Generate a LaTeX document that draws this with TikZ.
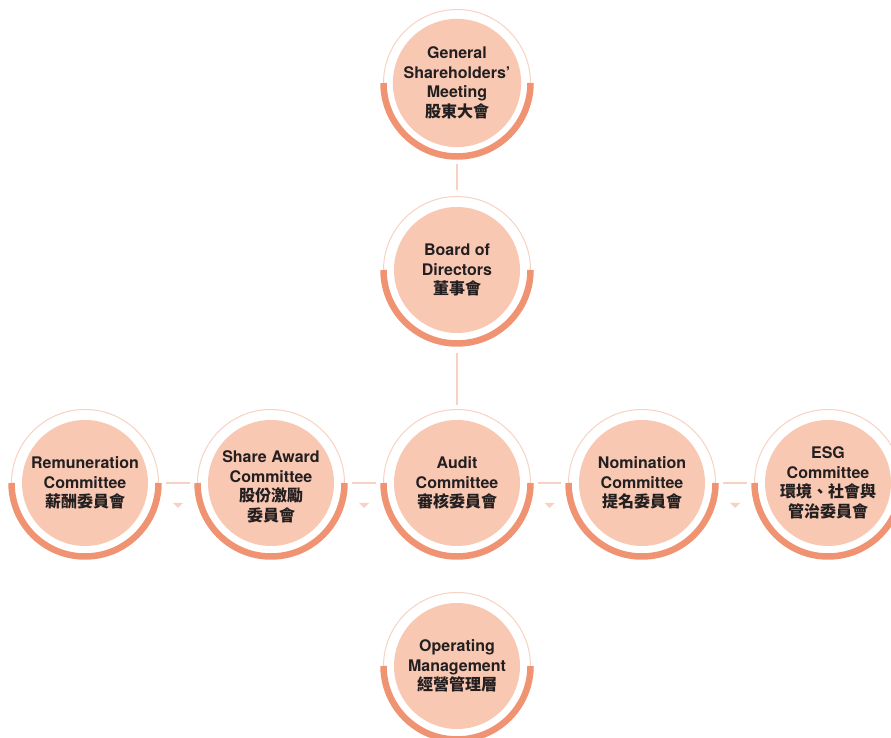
\documentclass[tikz,border=0pt]{standalone}
\usepackage{fontspec}
\setmainfont{TeX Gyre Heros}
\newfontfamily\cjk{Noto Sans CJK TC}
\usetikzlibrary{positioning, calc}
\definecolor{BodyPeach}{RGB}{248,200,178}
\definecolor{RingOrange}{RGB}{239,147,115}
\definecolor{RingLight}{RGB}{247,210,195}
\definecolor{TextDark}{RGB}{35,31,32}
\newcommand{\zh}[1]{{\cjk #1}}

\begin{document}
\begin{tikzpicture}[x=1pt, y=1pt]
        \tikzstyle{ring} = [circle, draw=RingLight, line width=1pt, minimum size=147pt, inner sep=0pt]
        \tikzstyle{half} = [draw=RingOrange, line width=6.5pt]
        \tikzstyle{body} = [circle, fill=BodyPeach, minimum size=126pt, inner sep=0pt,
          align=center, text=TextDark, font=\fontsize{16}{19.5}\selectfont\bfseries]
        \tikzstyle{link} = [draw=RingLight, line width=1.5pt]
        \tikzstyle{tip} = [fill=RingLight]

        \useasboundingbox (0,0) rectangle (891,738);

        % rings with the orange lower half
        \foreach \name/\x/\y in {gsm/457/655, board/457/468, rem/85/255, share/271/255,
          audit/457/255, nom/642/255, esg/828/255, ops/457/72} {
          \node[ring] (\name) at (\x,\y) {};
          \draw[half] ([xshift=-73.5pt]\name.center) arc (180:360:73.5pt);
        }

        \node[body] (gsm-body) at (gsm) {General\\Shareholders’\\Meeting\\\zh{股東大會}};
        \node[body] (board-body) at (board) {Board of\\Directors\\\zh{董事會}};
        \node[body] (rem-body) at (rem) {Remuneration\\Committee\\\zh{薪酬委員會}};
        \node[body] (share-body) at (share) {};
        \node[align=center, text=TextDark, font=\fontsize{16}{19.5}\selectfont\bfseries]
          (share-text) at ([yshift=-4pt]share.center) {Share Award\\Committee\\\zh{股份激勵}\\\zh{委員會}};
        \node[body] (audit-body) at (audit) {Audit\\Committee\\\zh{審核委員會}};
        \node[body] (nom-body) at (nom) {Nomination\\Committee\\\zh{提名委員會}};
        \node[body] (esg-body) at (esg) {ESG\\Committee\\\zh{環境、社會與}\\\zh{管治委員會}};
        \node[body] (ops-body) at (ops) {Operating\\Management\\\zh{經營管理層}};

        % links
        \draw[link, shorten <=7pt, shorten >=6pt] (gsm) -- (board);
        \draw[link, shorten <=9pt, shorten >=4pt] (board) -- (audit);
        \foreach \a/\b in {rem/share, share/audit, audit/nom, nom/esg} {
          \draw[link, shorten <=7pt, shorten >=7pt] (\a) -- (\b);
          \fill[tip] ($(\a.east)!0.5!(\b.west)+(-5,-20)$) -- ++(10,0) -- ++(-5,-5) -- cycle;
        }
\end{tikzpicture}
\end{document}
